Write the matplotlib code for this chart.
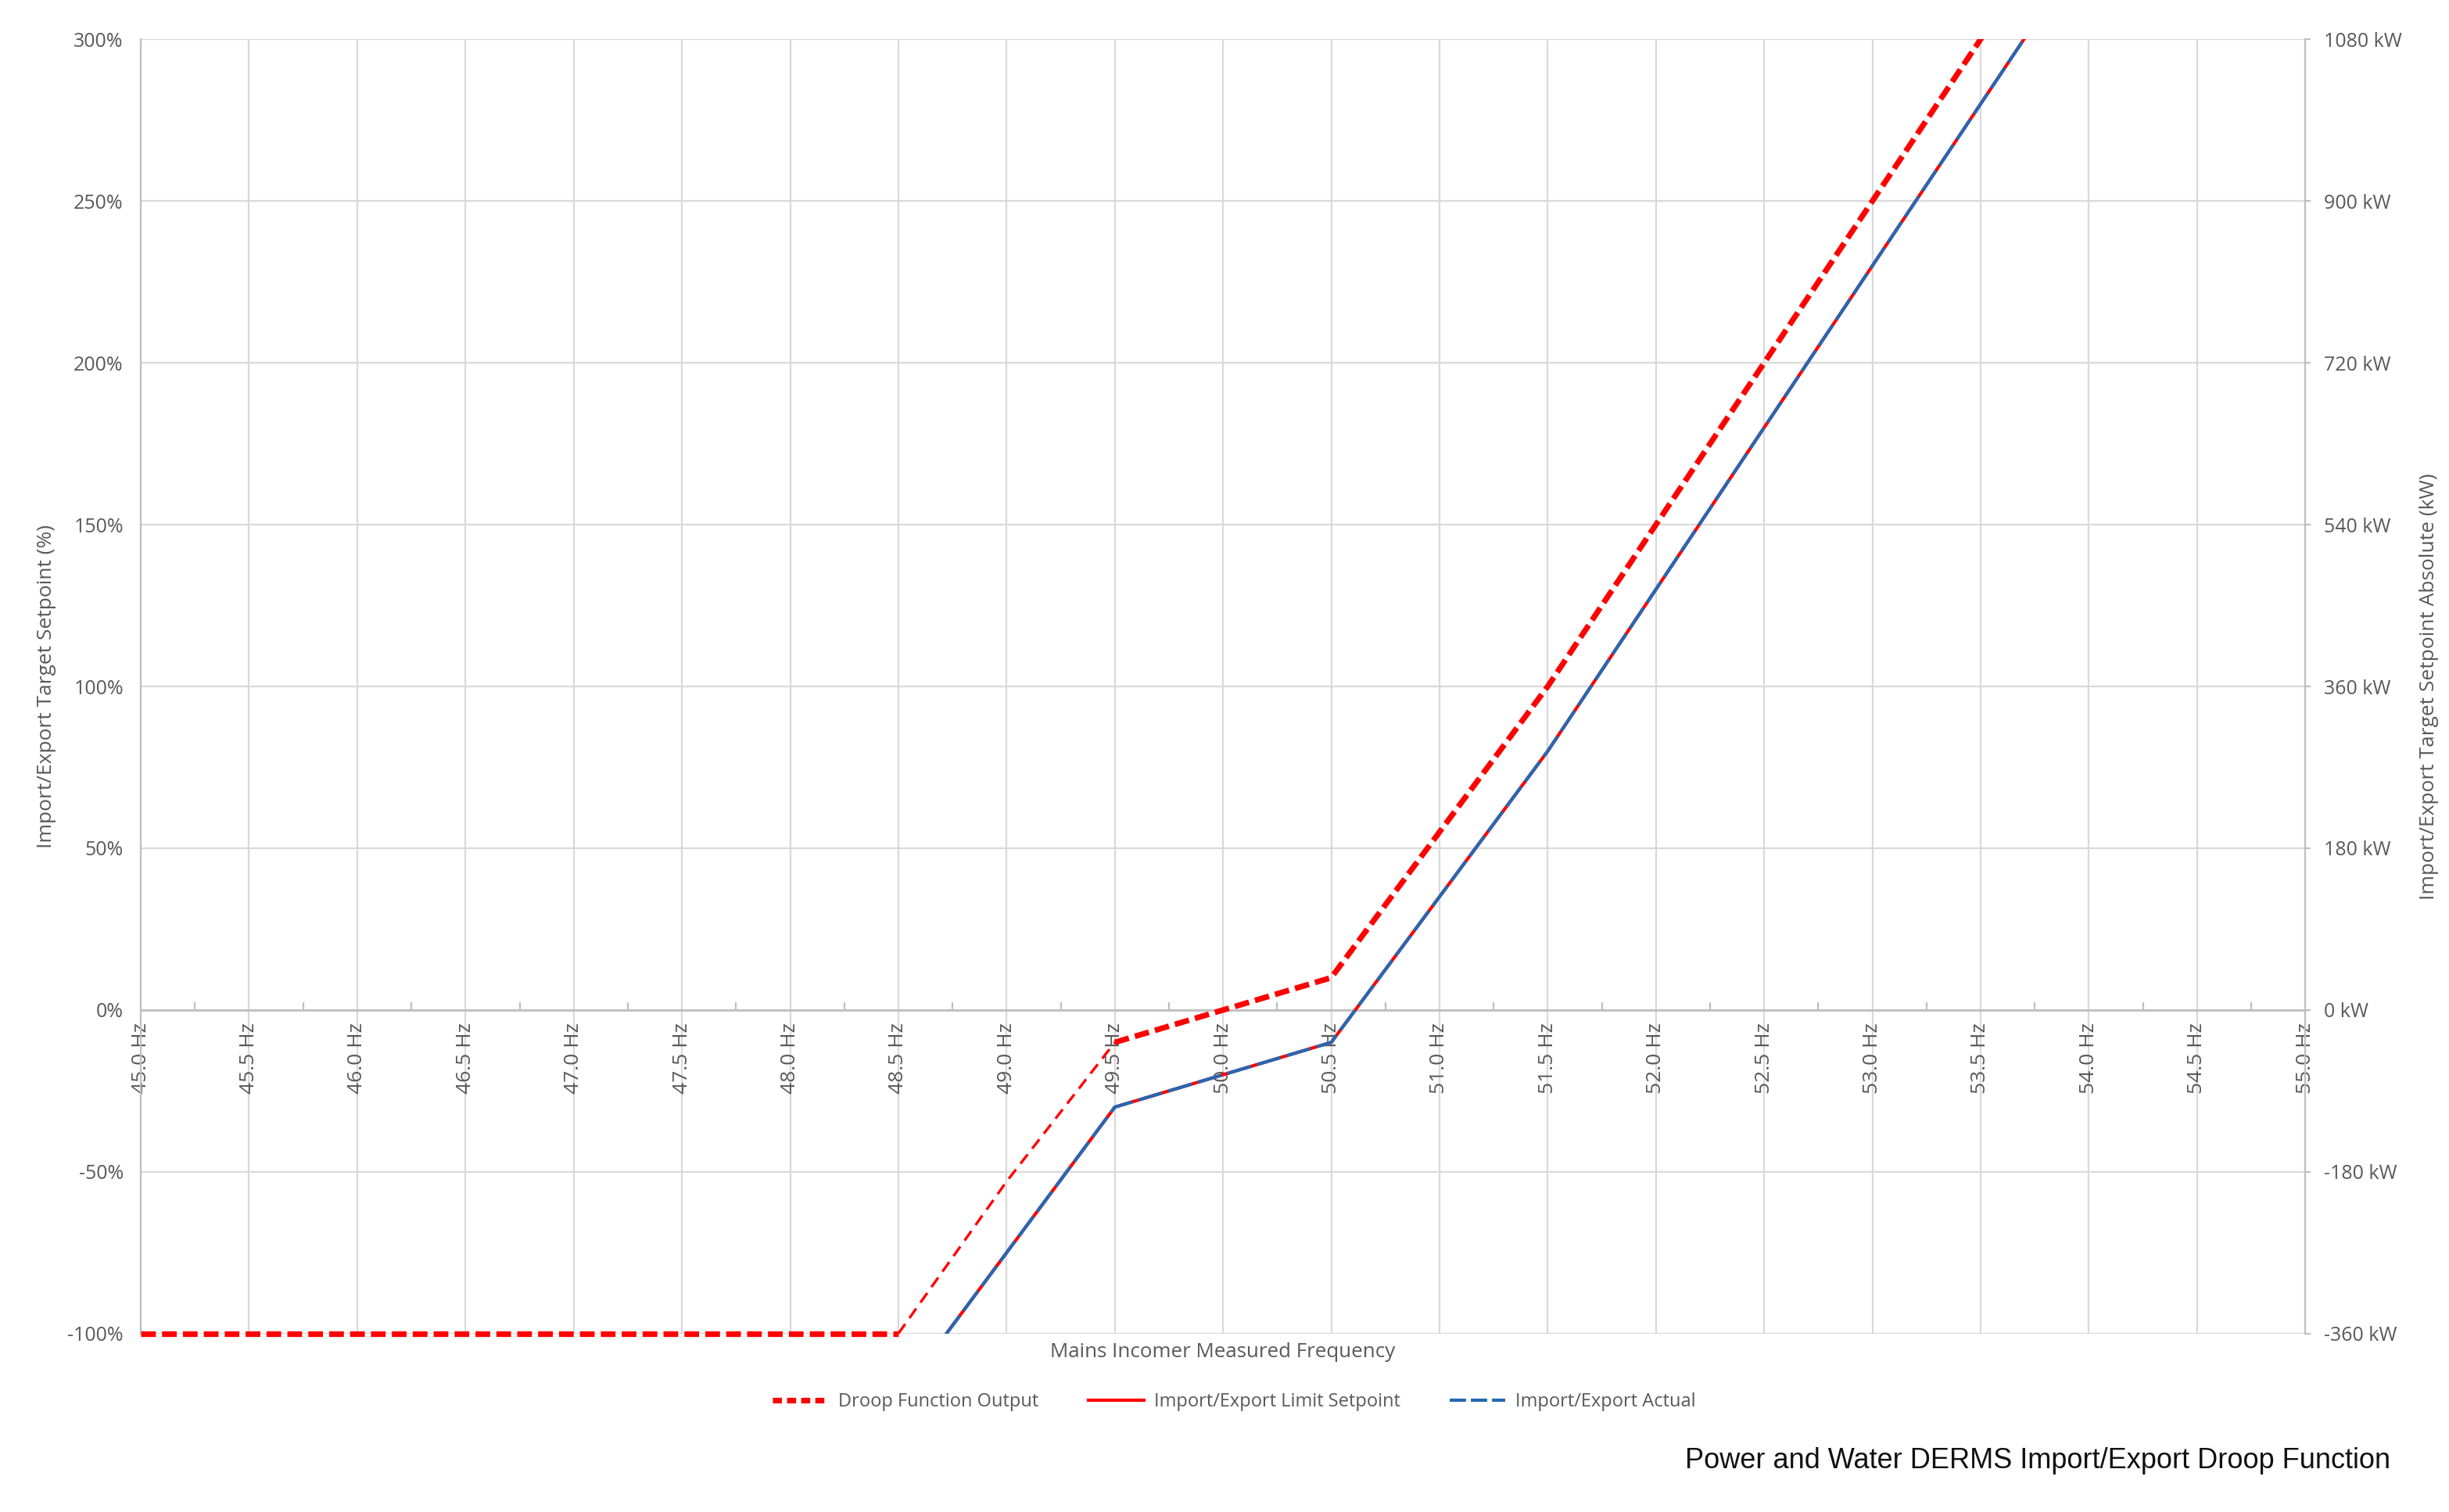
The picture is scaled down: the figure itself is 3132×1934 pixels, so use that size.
import numpy as np
import matplotlib
matplotlib.use("Agg")
import matplotlib.pyplot as plt
from matplotlib.ticker import MultipleLocator, FuncFormatter

# frequency points (Hz)
freq = [45.0, 45.5, 46.0, 46.5, 47.0, 47.5, 48.0, 48.5, 49.0, 49.5, 50.0,
        50.5, 51.0, 51.5, 52.0, 52.5, 53.0, 53.5, 54.0, 54.5, 55.0]

# droop function output (%)
droop = [-100, -100, -100, -100, -100, -100, -100, -100, -53, -10, 0,
         10, 55, 100, 150, 200, 250, 300, 350, 400, 450]

# import/export limit setpoint (%)
limit_sp = [-120, -120, -120, -120, -120, -120, -120, -120, -75, -30, -20,
            -10, 35, 80, 130, 180, 230, 280, 330, 380, 430]

# import/export actual (%)
actual = [-120, -120, -120, -120, -120, -120, -120, -120, -75, -30, -20,
          -10, 35, 80, 130, 180, 230, 280, 330, 380, 430]

rated_kw = 360  # 100% = 360 kW

red = '#ff0000'
blue = '#2468b4'
grey_txt = '#595959'
grid_c = '#d9d9d9'

plt.rcParams['font.family'] = ['Open Sans', 'DejaVu Sans']

fig = plt.figure(figsize=(15.66, 9.67), dpi=200)
ax = fig.add_axes([0.0575, 0.118, 0.8838, 0.856])

f = np.array(freq)
d = np.array(droop)

# droop line: thick dashes, thinner between 48.5 and 49.5 Hz
ax.plot(f[:8], d[:8], color=red, lw=2.6, dashes=(2.6, 1.1), zorder=3, clip_on=False)
ax.plot(f[7:10], d[7:10], color=red, lw=1.2, dashes=(4.5, 2.8), zorder=3)
ax.plot(f[9:], d[9:], color=red, lw=2.6, dashes=(2.6, 1.1), zorder=3)
ax.plot(freq, limit_sp, color=red, lw=1.5, zorder=4)
ax.plot(freq, actual, color=blue, lw=1.5, dashes=(7.5, 2), zorder=5)

ax.set_xlim(45, 55)
ax.set_ylim(-100, 300)

ax.xaxis.set_major_locator(MultipleLocator(0.5))
ax.xaxis.set_minor_locator(MultipleLocator(0.25))
ax.yaxis.set_major_locator(MultipleLocator(50))
ax.xaxis.set_major_formatter(FuncFormatter(lambda v, p: f"{v:.1f} Hz"))
ax.yaxis.set_major_formatter(FuncFormatter(lambda v, p: f"{v:.0f}%"))

ax.grid(True, which='major', color=grid_c, lw=0.8, zorder=0)
ax.set_axisbelow(True)

for s in ['top', 'right']:
    ax.spines[s].set_visible(False)
ax.spines['bottom'].set_position(('data', 0))
ax.spines['bottom'].set_color('#bfbfbf')
ax.spines['bottom'].set_linewidth(1.0)
ax.spines['left'].set_color('#bfbfbf')
ax.spines['left'].set_linewidth(0.8)

ax.tick_params(axis='x', which='major', direction='in', length=0, pad=6,
               labelsize=9.5, labelcolor=grey_txt, labelrotation=90)
ax.tick_params(axis='x', which='minor', direction='in', length=3.5,
               color='#bfbfbf', width=0.8)
ax.tick_params(axis='y', length=0, pad=8, labelsize=9, labelcolor=grey_txt)
for lab in ax.get_xticklabels():
    lab.set_va('top')

ax.set_ylabel("Import/Export Target Setpoint (%)", fontsize=9.5, color=grey_txt, labelpad=5)
ax.text(0.5, -0.007, "Mains Incomer Measured Frequency", transform=ax.transAxes,
        ha='center', va='top', fontsize=9.3, color=grey_txt)

# secondary axis in kW
ax2 = ax.twinx()
ax2.set_ylim(-100 * rated_kw / 100, 300 * rated_kw / 100)
ax2.yaxis.set_major_locator(MultipleLocator(180))
ax2.yaxis.set_major_formatter(FuncFormatter(lambda v, p: f"{v:.0f} kW"))
for s in ['top', 'left', 'bottom']:
    ax2.spines[s].set_visible(False)
ax2.spines['right'].set_color('#bfbfbf')
ax2.spines['right'].set_linewidth(0.8)
ax2.tick_params(axis='y', direction='out', length=2.5, color='#bfbfbf', pad=6,
                labelsize=9, labelcolor=grey_txt)
ax2.set_ylabel("Import/Export Target Setpoint Absolute (kW)", fontsize=9.5,
               color=grey_txt, labelpad=8)

# legend
h1, = ax.plot([], [], color=red, lw=2.6, dashes=(1.6, 0.9))
h2, = ax.plot([], [], color=red, lw=1.5)
h3, = ax.plot([], [], color=blue, lw=1.5, dashes=(5, 1.5))
fig.legend([h1, h2, h3],
           ["Droop Function Output", "Import/Export Limit Setpoint", "Import/Export Actual"],
           loc='center', bbox_to_anchor=(0.504, 0.073), ncol=3, frameon=False,
           handlelength=3.0, handletextpad=0.55, columnspacing=2.7,
           fontsize=8.5, labelcolor=grey_txt)

fig.text(0.976, 0.034, "Power and Water DERMS Import/Export Droop Function",
         ha='right', va='center', fontsize=13, color='#111111',
         family=['Liberation Sans Narrow', 'Liberation Sans', 'DejaVu Sans'])

fig.savefig('out.png', dpi=200)
